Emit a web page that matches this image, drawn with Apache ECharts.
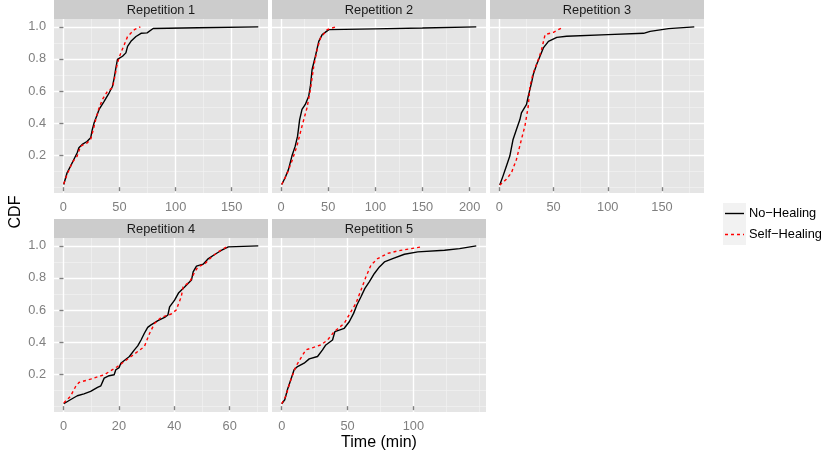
<!DOCTYPE html>
<html>
<head>
<meta charset="utf-8">
<script src="https://cdn.jsdelivr.net/npm/echarts@6/dist/echarts.min.js"></script>
<style>
  html, body { margin: 0; padding: 0; background: #fff; }
  #chart { width: 825px; height: 456px; }
</style>
</head>
<body>
<div id="chart"></div>
<script>
var panelNames = ['Repetition 1', 'Repetition 2', 'Repetition 3', 'Repetition 4', 'Repetition 5'];
var seriesNames = ['No\u2212Healing', 'Self\u2212Healing'];

// [time (min), CDF]
var rep1NoHealing = [[0.3,0.017],[3.3,0.09],[6.3,0.13],[9.3,0.173],[12.3,0.215],[13.8,0.246],[16.8,0.267],[21,0.285],
  [24.3,0.308],[25.8,0.36],[27.3,0.4],[29.6,0.443],[31.8,0.485],[36.3,0.536],[40.8,0.589],[43.8,0.63],[45.3,0.682],
  [46.8,0.745],[48.2,0.797],[52.7,0.817],[55.7,0.838],[57.2,0.879],[60.2,0.91],[64.7,0.94],[69.2,0.96],[74.6,0.963],
  [80,0.99],[120,0.995],[173.7,1.0]];
var rep1SelfHealing = [[0.3,0.02],[3.3,0.08],[7.8,0.153],[12.3,0.194],[15.3,0.256],[21.3,0.277],[24.3,0.298],[26.7,0.36],
  [28.8,0.422],[31.8,0.495],[34.8,0.547],[39.3,0.599],[43.8,0.62],[45.9,0.692],[47.6,0.755],[49.1,0.796],[51.2,0.838],
  [54.3,0.89],[57.2,0.94],[63.3,0.983],[68.6,1.0]];

var rep2NoHealing = [[0.7,0.017],[4.3,0.059],[7.9,0.111],[11.5,0.194],[15,0.256],[17.5,0.318],[19.7,0.422],[22.2,0.485],
  [25.7,0.516],[29.3,0.568],[31.1,0.63],[32.9,0.734],[36.4,0.817],[40,0.91],[43.6,0.952],[50.7,0.983],[100,0.988],
  [150,0.993],[207,1.0]];
var rep2SelfHealing = [[0.7,0.017],[6.1,0.08],[11.5,0.163],[16.8,0.256],[22.2,0.381],[27.5,0.495],[31.1,0.609],
  [34.7,0.755],[38.2,0.859],[41.8,0.931],[48.9,0.983],[57.8,1.0]];

var rep3NoHealing = [[0.4,0.013],[3.4,0.069],[6.5,0.131],[9.7,0.194],[12.7,0.298],[15.8,0.36],[19,0.422],[20.4,0.464],
  [25.1,0.516],[26.7,0.568],[29.7,0.651],[31.3,0.703],[34.4,0.765],[37.5,0.817],[40.6,0.869],[45.3,0.91],[53,0.935],
  [62,0.942],[100,0.952],[133,0.96],[139,0.972],[156,0.989],[179.7,1.0]];
var rep3SelfHealing = [[0.4,0.013],[6.5,0.049],[11.2,0.09],[15.8,0.173],[20.4,0.298],[23.6,0.381],[26.7,0.505],
  [28.3,0.63],[31.3,0.713],[36,0.796],[39,0.859],[42.2,0.952],[49.9,0.966],[59.2,1.0]];

var rep4NoHealing = [[0.1,0.015],[2.5,0.04],[5,0.065],[7.4,0.077],[9.8,0.092],[12.3,0.117],[13.5,0.127],[14.7,0.175],
  [16.5,0.19],[18.3,0.196],[18.9,0.227],[20.1,0.241],[20.7,0.268],[23.8,0.31],[25.6,0.351],[26.8,0.376],[28,0.413],
  [29.2,0.455],[30.4,0.492],[31.6,0.507],[34.1,0.534],[36.5,0.554],[37.7,0.569],[38.3,0.62],[40.1,0.662],[41.6,0.708],
  [43.8,0.745],[46.2,0.787],[46.8,0.838],[48,0.874],[50.4,0.886],[52.3,0.921],[54.7,0.948],[57.1,0.973],[59.5,0.994],
  [70.3,1.0]];
var rep4SelfHealing = [[0.1,0.02],[2.5,0.061],[4.4,0.123],[5.6,0.148],[9.8,0.169],[14.7,0.196],[19.5,0.247],[24.4,0.31],
  [26.8,0.341],[29.2,0.372],[31.1,0.455],[32.9,0.517],[35.3,0.554],[38.9,0.575],[40.7,0.6],[42.5,0.683],[43.2,0.745],
  [45.6,0.776],[47.4,0.838],[48.6,0.869],[51.1,0.89],[53.5,0.932],[55.9,0.963],[58.9,0.994]];

var rep5NoHealing = [[0,0.015],[2.3,0.04],[4.3,0.102],[6.9,0.165],[9.4,0.227],[12,0.247],[17,0.268],[20.9,0.295],
  [27.2,0.31],[31,0.351],[33.5,0.382],[38.6,0.413],[40.4,0.465],[47.5,0.486],[51.3,0.527],[54.6,0.579],[57.1,0.631],
  [60.2,0.683],[63.2,0.735],[66.5,0.776],[70.4,0.828],[74.2,0.869],[78,0.9],[84.3,0.921],[93.2,0.948],[103.4,0.963],
  [123.7,0.973],[135.1,0.983],[147.8,1.0]];
var rep5SelfHealing = [[0,0.015],[3,0.061],[6.9,0.165],[10.7,0.247],[14.5,0.3],[18.3,0.351],[24.7,0.368],[29.7,0.382],
  [34.8,0.413],[39.9,0.465],[47.5,0.517],[52.6,0.59],[56.4,0.642],[60.2,0.724],[64,0.807],[67.8,0.88],[72.9,0.921],
  [80.5,0.953],[88.1,0.969],[98.3,0.983],[105.9,0.994]];

var noHealingData = [rep1NoHealing, rep2NoHealing, rep3NoHealing, rep4NoHealing, rep5NoHealing];
var selfHealingData = [rep1SelfHealing, rep2SelfHealing, rep3SelfHealing, rep4SelfHealing, rep5SelfHealing];

// tick labels
var xTicks = [[0,50,100,150],[0,50,100,150,200],[0,50,100,150],[0,20,40,60],[0,50,100]];
var xMinorTicks = [[25,75,125,175],[25,75,125,175],[25,75,125,175],[10,30,50,70],[25,75,125,150]];
var yTicks = [0.2,0.4,0.6,0.8,1.0];
var yMinorTicks = [0,0.1,0.3,0.5,0.7,0.9];

// layout
var gridLeft = [54, 272, 490, 54, 272];
var gridTop = [19, 19, 19, 238, 238];
var gridW = 214, gridH = 174, stripH = 19;
var FONT = '"Liberation Sans", Arial, Helvetica, sans-serif';

function range(arrs, idx) {
  var lo = Infinity, hi = -Infinity;
  arrs.forEach(function (a) {
    a.forEach(function (p) { lo = Math.min(lo, p[idx]); hi = Math.max(hi, p[idx]); });
  });
  var pad = (hi - lo) * 0.05;
  return [lo - pad, hi + pad];
}

var yAll = range(noHealingData.concat(selfHealingData), 1);

var grids = [], xAxes = [], yAxes = [], series = [], graphics = [];

panelNames.forEach(function (name, i) {
  var xr = range([noHealingData[i], selfHealingData[i]], 0);
  var showY = (i === 0 || i === 3);

  grids.push({
    left: gridLeft[i], top: gridTop[i], width: gridW, height: gridH,
    show: true, backgroundColor: '#E5E5E5', borderWidth: 0
  });

  // major axes (labels, ticks, white grid lines)
  xAxes.push({
    gridIndex: i, type: 'value', min: xr[0], max: xr[1], z: 1,
    axisLine: { show: false },
    axisTick: { show: true, customValues: xTicks[i], length: 4, lineStyle: { color: '#7F7F7F', width: 1.4 } },
    axisLabel: { show: true, customValues: xTicks[i], margin: 8, color: '#7F7F7F', fontSize: 12.8, fontFamily: FONT,
      formatter: function (v) { return String(v); } },
    splitLine: { show: true, lineStyle: { color: '#FFFFFF', width: 1.4 } }
  });
  // minor axis (light grid lines only)
  xAxes.push({
    gridIndex: i, type: 'value', min: xr[0], max: xr[1], z: 0,
    axisLine: { show: false },
    axisTick: { show: false, customValues: xMinorTicks[i] },
    axisLabel: { show: false },
    splitLine: { show: true, lineStyle: { color: '#F2F2F2', width: 0.7 } }
  });

  yAxes.push({
    gridIndex: i, type: 'value', min: yAll[0], max: yAll[1], z: 1,
    axisLine: { show: false },
    axisTick: { show: showY, customValues: yTicks, length: 4, lineStyle: { color: '#7F7F7F', width: 1.4 } },
    axisLabel: { show: showY, customValues: yTicks, margin: 8, color: '#7F7F7F', fontSize: 12.8, fontFamily: FONT,
      formatter: function (v) { return v.toFixed(1); } },
    splitLine: { show: true, lineStyle: { color: '#FFFFFF', width: 1.4 } }
  });
  yAxes.push({
    gridIndex: i, type: 'value', min: yAll[0], max: yAll[1], z: 0,
    axisLine: { show: false },
    axisTick: { show: false, customValues: yMinorTicks },
    axisLabel: { show: false },
    splitLine: { show: true, lineStyle: { color: '#F2F2F2', width: 0.7 } }
  });

  series.push({
    name: seriesNames[0], type: 'line', xAxisIndex: 2 * i, yAxisIndex: 2 * i,
    data: noHealingData[i], showSymbol: false, symbol: 'none', z: 3,
    lineStyle: { color: '#000000', width: 1.4 }, itemStyle: { color: '#000000' }
  });
  series.push({
    name: seriesNames[1], type: 'line', xAxisIndex: 2 * i, yAxisIndex: 2 * i,
    data: selfHealingData[i], showSymbol: false, symbol: 'none', z: 4,
    lineStyle: { color: '#FF0000', width: 1.4, type: [3, 3] }, itemStyle: { color: '#FF0000' }
  });

  // facet strip
  graphics.push({
    type: 'rect', silent: true,
    shape: { x: gridLeft[i], y: gridTop[i] - stripH, width: gridW, height: stripH },
    style: { fill: '#CCCCCC' }
  });
  graphics.push({
    type: 'text', silent: true,
    x: gridLeft[i] + gridW / 2, y: gridTop[i] - stripH / 2 + 0.5,
    style: { text: name, fill: '#1A1A1A', fontSize: 12.8, fontFamily: FONT,
      align: 'center', verticalAlign: 'middle', textAlign: 'center', textVerticalAlign: 'middle' }
  });
});

// axis titles
graphics.push({
  type: 'text', silent: true, x: 379, y: 443,
  style: { text: 'Time (min)', fill: '#000', fontSize: 16, fontFamily: FONT,
    align: 'center', verticalAlign: 'middle', textAlign: 'center', textVerticalAlign: 'middle' }
});
graphics.push({
  type: 'text', silent: true, x: 16, y: 212, rotation: Math.PI / 2,
  style: { text: 'CDF', fill: '#000', fontSize: 16, fontFamily: FONT,
    align: 'center', verticalAlign: 'middle', textAlign: 'center', textVerticalAlign: 'middle' }
});

// legend
var legendColors = ['#000000', '#FF0000'];
var legendDash = [null, [3, 3]];
seriesNames.forEach(function (n, k) {
  var top = 203 + k * 21;
  graphics.push({ type: 'rect', silent: true, shape: { x: 723, y: top, width: 23, height: 21 }, style: { fill: '#F2F2F2' } });
  graphics.push({ type: 'line', silent: true, shape: { x1: 725, y1: top + 10.5, x2: 744, y2: top + 10.5 },
    style: { stroke: legendColors[k], lineWidth: 1.4, lineDash: legendDash[k] } });
  graphics.push({ type: 'text', silent: true, x: 749, y: top + 10.5,
    style: { text: n, fill: '#000', fontSize: 12.8, fontFamily: FONT,
      align: 'left', verticalAlign: 'middle', textAlign: 'left', textVerticalAlign: 'middle' } });
});

var chart = echarts.init(document.getElementById('chart'), null, { renderer: 'canvas' });
chart.setOption({
  backgroundColor: '#FFFFFF',
  animation: false,
  grid: grids,
  xAxis: xAxes,
  yAxis: yAxes,
  series: series,
  graphic: graphics
});
</script>
</body>
</html>
